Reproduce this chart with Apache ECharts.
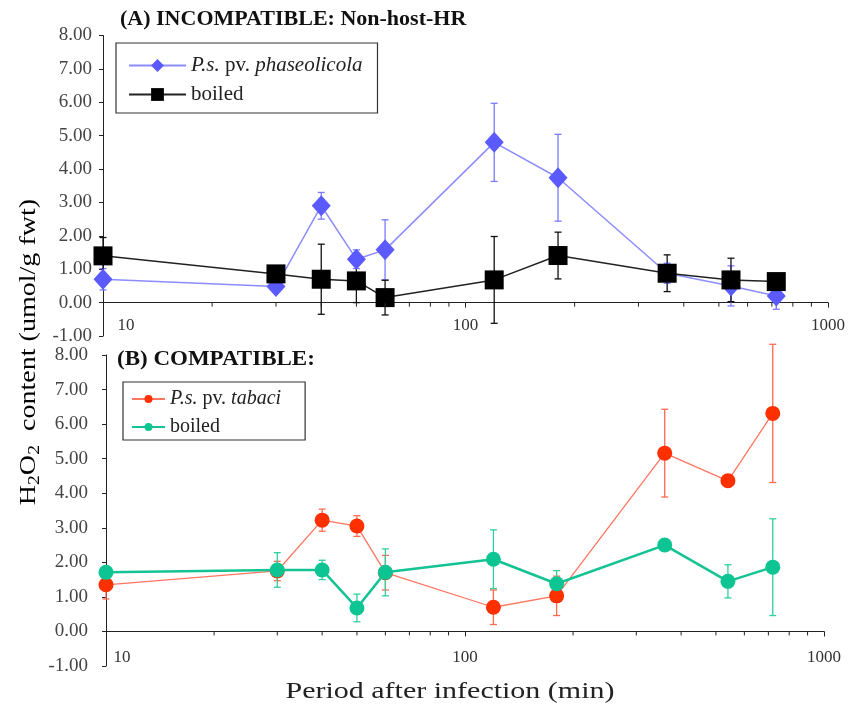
<!DOCTYPE html>
<html>
<head>
<meta charset="utf-8">
<script src="https://cdn.jsdelivr.net/npm/echarts@6/dist/echarts.min.js"></script>
<style>
html,body{margin:0;padding:0;background:#fff;}
#chart{width:856px;height:710px;}
</style>
</head>
<body>
<div id="chart"></div>
<script>
// ---- data ----
const times = [10, 30, 40, 50, 60, 120, 180, 360, 540, 720];
// Panel A: incompatible
const phaseolicola    = [0.70, 0.48, 2.90, 1.30, 1.58, 4.80, 3.74, 0.88, 0.50, 0.20];
const phaseolicolaErr = [0.32, 0.10, 0.40, 0.28, 0.90, 1.17, 1.30, 0.30, 0.60, 0.40];
const boiledA         = [1.40, 0.86, 0.70, 0.65, 0.15, 0.68, 1.41, 0.88, 0.68, 0.63];
const boiledAErr      = [0.55, 0.10, 1.05, 0.65, 0.52, 1.30, 0.70, 0.55, 0.65, 0.10];
// Panel B: compatible
const tabaci          = [1.35, 1.75, 3.22, 3.05, 1.70, 0.70, 1.03, 5.16, 4.36, 6.31];
const tabaciErr       = [0.41, 0.28, 0.32, 0.30, 0.50, 0.50, 0.57, 1.27, 0.10, 2.00];
const boiledB         = [1.71, 1.78, 1.78, 0.68, 1.71, 2.09, 1.38, 2.50, 1.45, 1.86];
const boiledBErr      = [0.15, 0.50, 0.28, 0.40, 0.68, 0.85, 0.38, 0.10, 0.48, 1.40];
const minorTicks = [20, 30, 40, 50, 60, 70, 80, 90, 200, 300, 400, 500, 600, 700, 800, 900];
const titleA = '(A) INCOMPATIBLE: Non-host-HR';
const titleB = '(B) COMPATIBLE:';
const xTitle = 'Period after infection (min)';

const SERIF = '"Liberation Serif", "DejaVu Serif", serif';

function pts(vals){ return times.map((t,i)=>[t, vals[i]]); }
function errs(vals, e){ return times.map((t,i)=>[t, vals[i]-e[i], vals[i]+e[i]]); }

function errSeries(name, vals, e, color, xi, width){
  return {
    type: 'custom', name: name, xAxisIndex: xi, yAxisIndex: xi, z: 1,
    silent: true,
    data: errs(vals, e),
    encode: {x: 0, y: [1, 2]},
    renderItem: function(params, api){
      const x = api.value(0);
      const lo = api.coord([x, api.value(1)]);
      const hi = api.coord([x, api.value(2)]);
      const w = 3.5;
      const st = {stroke: color, lineWidth: width};
      return {type: 'group', children: [
        {type: 'line', shape: {x1: lo[0], y1: lo[1], x2: hi[0], y2: hi[1]}, style: st},
        {type: 'line', shape: {x1: hi[0]-w, y1: hi[1], x2: hi[0]+w, y2: hi[1]}, style: st},
        {type: 'line', shape: {x1: lo[0]-w, y1: lo[1], x2: lo[0]+w, y2: lo[1]}, style: st}
      ]};
    }
  };
}

function minorTickSeries(xi){
  return {
    type: 'custom', xAxisIndex: xi, yAxisIndex: xi, silent: true, z: 5,
    data: minorTicks.map(v=>[v, 0]),
    renderItem: function(params, api){
      const p = api.coord([api.value(0), 0]);
      return {type: 'line', shape: {x1: p[0], y1: p[1], x2: p[0], y2: p[1]+4},
              style: {stroke: '#222', lineWidth: 1}};
    }
  };
}

function xAxisCfg(gi, firstPad, margin){
  return {
    type: 'log', logBase: 10, min: 10, max: 1000, gridIndex: gi,
    axisLine: {show: true, onZero: true, lineStyle: {color: '#222', width: 1}},
    axisTick: {show: true, length: 5, lineStyle: {color: '#222'}},
    splitLine: {show: false},
    axisLabel: {
      fontFamily: SERIF, fontSize: 17, color: '#333', margin: margin,
      formatter: function(v){ return v === 10 ? '{f|10}' : String(v); },
      rich: {f: {fontFamily: SERIF, fontSize: 17, color: '#333', padding: [0,0,0,firstPad]}}
    }
  };
}
function yAxisCfg(gi, margin){
  return {
    type: 'value', min: -1, max: 8, interval: 1, gridIndex: gi,
    axisLine: {show: true, lineStyle: {color: '#222', width: 1}},
    axisTick: {show: true, length: 4, lineStyle: {color: '#222'}},
    splitLine: {show: false},
    axisLabel: {fontFamily: SERIF, fontSize: 19, color: '#444', margin: margin,
      formatter: v => v.toFixed(2)}
  };
}

function legendRich(fs, lh){
  return {
    i: {fontFamily: SERIF, fontSize: fs, fontStyle: 'italic', color: '#222', lineHeight: lh},
    n: {fontFamily: SERIF, fontSize: fs, color: '#222', lineHeight: lh}
  };
}
function legendFmt(name){
  if (name === 'phaseolicola') return '{i|P.s.}{n| pv. }{i|phaseolicola}';
  if (name === 'tabaci') return '{i|P.s.}{n| pv. }{i|tabaci}';
  return '{n|boiled}';
}

const chart = echarts.init(document.getElementById('chart'));
chart.setOption({
  backgroundColor: '#fff',
  animation: false,
  grid: [
    {left: 103, top: 35.5, width: 725, height: 300.5, containLabel: false, outerBoundsMode: 'none'},
    {left: 106, top: 355, width: 718, height: 311, containLabel: false, outerBoundsMode: 'none'}
  ],
  xAxis: [xAxisCfg(0, 46, -19), xAxisCfg(1, 32, -17)],
  yAxis: [yAxisCfg(0, 11), yAxisCfg(1, 18)],
  legend: [
    {data: ['phaseolicola', 'boiledA'], orient: 'vertical', left: 116, top: 43,
     itemWidth: 57, itemHeight: 16, itemGap: 8,
     padding: [12, 15, 8, 12], borderColor: '#333', borderWidth: 1.2,
     formatter: legendFmt, textStyle: {rich: legendRich(21, 22)}},
    {data: ['tabaci', 'boiledB'], orient: 'vertical', left: 123, top: 382,
     itemWidth: 33, itemHeight: 10, itemGap: 8,
     padding: [7, 24, 3, 8], borderColor: '#333', borderWidth: 1.2,
     formatter: legendFmt, textStyle: {rich: legendRich(20, 18)}}
  ],
  graphic: [
    {type: 'text', x: 120, y: 20, scaleX: 1.1,
     style: {text: titleA, fontFamily: SERIF, fontSize: 20, fontWeight: 'bold',
             fill: '#111', align: 'left', verticalAlign: 'middle'}},
    {type: 'text', x: 117, y: 360, scaleX: 1.15,
     style: {text: titleB, fontFamily: SERIF, fontSize: 20, fontWeight: 'bold',
             fill: '#111', align: 'left', verticalAlign: 'middle'}},
    {type: 'text', x: 29, y: 352, rotation: Math.PI/2, scaleX: 1.22,
     style: {
       text: '{n|H}{s|2}{n|O}{s|2}{n|  content (umol/g fwt)}',
       align: 'center', verticalAlign: 'middle',
       rich: {
         n: {fontFamily: SERIF, fontSize: 23, color: '#222', lineHeight: 28},
         s: {fontFamily: SERIF, fontSize: 16, color: '#222', lineHeight: 16, verticalAlign: 'bottom'}
       }
     }},
    {type: 'text', x: 450, y: 692, scaleX: 1.25,
     style: {text: xTitle, fontFamily: SERIF, fontSize: 24,
             fill: '#222', align: 'center', verticalAlign: 'middle'}}
  ],
  series: [
    minorTickSeries(0),
    minorTickSeries(1),
    errSeries('errPh', phaseolicola, phaseolicolaErr, '#7a7aff', 0, 1.3),
    errSeries('errBA', boiledA, boiledAErr, '#111', 0, 1.3),
    errSeries('errTa', tabaci, tabaciErr, '#ff6a50', 1, 1.3),
    errSeries('errBB', boiledB, boiledBErr, '#2fcf9f', 1, 1.3),
    {name: 'phaseolicola', type: 'line', xAxisIndex: 0, yAxisIndex: 0, z: 3,
     data: pts(phaseolicola), symbol: 'diamond', symbolSize: [19, 21],
     lineStyle: {color: '#8c8cff', width: 1.5},
     itemStyle: {color: '#5a5aff'}},
    {name: 'boiledA', type: 'line', xAxisIndex: 0, yAxisIndex: 0, z: 4,
     data: pts(boiledA), symbol: 'rect', symbolSize: 19,
     lineStyle: {color: '#222', width: 1.5},
     itemStyle: {color: '#000'}},
    {name: 'tabaci', type: 'line', xAxisIndex: 1, yAxisIndex: 1, z: 3,
     data: pts(tabaci), symbol: 'circle', symbolSize: 15,
     lineStyle: {color: '#ff7560', width: 1.3},
     itemStyle: {color: '#ff3000'}},
    {name: 'boiledB', type: 'line', xAxisIndex: 1, yAxisIndex: 1, z: 4,
     data: pts(boiledB), symbol: 'circle', symbolSize: 15,
     lineStyle: {color: '#14c393', width: 2.5},
     itemStyle: {color: '#0cc592'}}
  ]
});
</script>
</body>
</html>
